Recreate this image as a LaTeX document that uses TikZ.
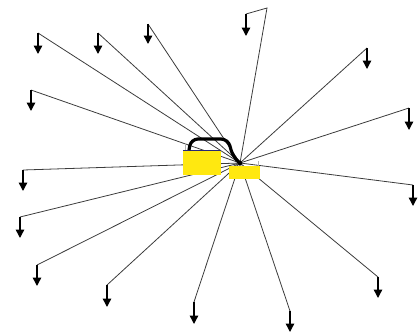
\documentclass[tikz,border=0pt]{standalone}
\usetikzlibrary{arrows.meta}
\definecolor{boxyellow}{RGB}{255,232,16}
\definecolor{wire}{RGB}{60,60,60}
\definecolor{topblue}{RGB}{40,40,120}
\tikzset{
  wireline/.style={draw=wire, line width=0.8pt},
  droparrow/.style={draw=black, line width=1.4pt, -{Triangle[length=8.5pt,width=8.5pt]}},
  ybox/.style={fill=boxyellow, draw=none, inner sep=0pt, anchor=north west},
  bus/.style={draw=black, line width=3.2pt, rounded corners=7pt},
  tick/.style={draw=gray!60, line width=0.6pt}
}
\begin{document}
\begin{tikzpicture}[x=1pt,y=-1pt]
\useasboundingbox (0,0) rectangle (420,333);
\coordinate (hub) at (240,163);
% corners of the wires
\coordinate (cA) at (38,33);   \coordinate (tA) at (38,54);
\coordinate (cB) at (98,33);   \coordinate (tB) at (98,54);
\coordinate (cC) at (148,24);  \coordinate (tC) at (148,44);
\coordinate (cD) at (31,90);   \coordinate (tD) at (31,111);
\coordinate (cE1) at (267,8);  \coordinate (cE) at (246,14); \coordinate (tE) at (246,36);
\coordinate (cF) at (367,48);  \coordinate (tF) at (367,69);
\coordinate (cG) at (409,108); \coordinate (tG) at (409,130);
\coordinate (cH) at (23,170);  \coordinate (tH) at (23,191);
\coordinate (cI) at (20,217);  \coordinate (tI) at (20,238);
\coordinate (cJ) at (37,265);  \coordinate (tJ) at (37,286);
\coordinate (cK) at (107,285); \coordinate (tK) at (107,307);
\coordinate (cL) at (194,302); \coordinate (tL) at (194,324);
\coordinate (cM) at (413,185); \coordinate (tM) at (413,206);
\coordinate (cN) at (378,277); \coordinate (tN) at (378,298);
\coordinate (cO) at (290,311); \coordinate (tO) at (290,332);
% wires
\foreach \n in {A,B,C,D,F,G,H,I,J,K,L,M,N,O}{
  \draw[wireline] (hub) -- (c\n);
  \draw[droparrow] (c\n) -- (t\n);
}
\draw[wireline] (hub) -- (cE1) -- (cE);
\draw[droparrow] (cE) -- (tE);
% boxes
\node[ybox, minimum width=38pt, minimum height=25pt] (box1) at (183,150) {};
\node[ybox, minimum width=31pt, minimum height=13pt] (box2) at (229,166) {};
\draw[topblue, line width=0.9pt] (box1.north west) -- (box1.north east);
\draw[tick] (185,143) -- (185,150);
\draw[tick] (258,161) -- (258,166);
% thick bus
\draw[bus] (189,150) -- (191,139) -- (228,139) -- (233,157) -- (hub);
\fill[black] (hub) circle (2.2pt);
\end{tikzpicture}
\end{document}
